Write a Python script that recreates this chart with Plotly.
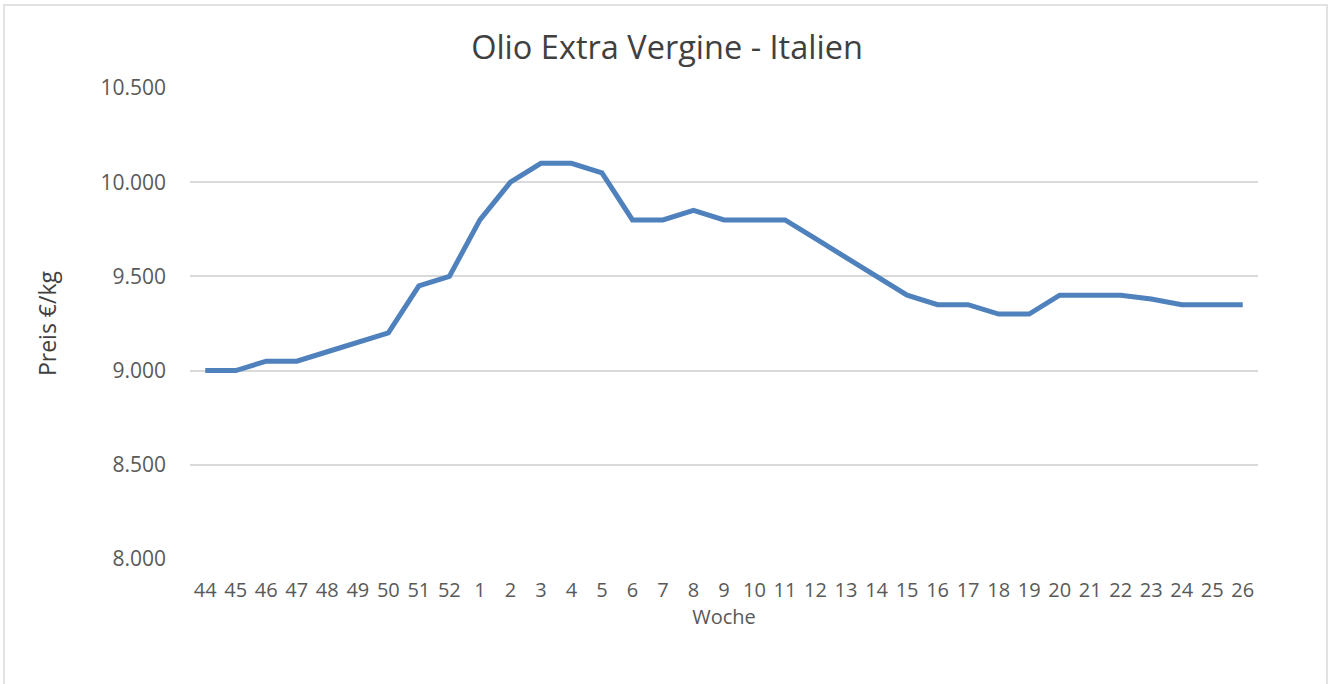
import plotly.graph_objects as go

weeks = ["44", "45", "46", "47", "48", "49", "50", "51", "52",
         "1", "2", "3", "4", "5", "6", "7", "8", "9", "10", "11", "12", "13",
         "14", "15", "16", "17", "18", "19", "20", "21", "22", "23", "24", "25", "26"]
prices = [9000, 9000, 9050, 9050, 9100, 9150, 9200, 9450, 9500,
          9800, 10000, 10100, 10100, 10050, 9800, 9800, 9850, 9800, 9800, 9800,
          9700, 9600, 9500, 9400, 9350, 9350, 9300, 9300, 9400, 9400, 9400,
          9380, 9350, 9350, 9350]
y_ticks = [8000, 8500, 9000, 9500, 10000, 10500]

x_idx = list(range(len(weeks)))

font_family = "Open Sans, Liberation Sans, sans-serif"
W, H = 1334, 684
ML, MR, MT, MB = 190, 76, 88, 125
PW, PH = W - ML - MR, H - MT - MB

fig = go.Figure()
fig.add_trace(go.Scatter(
    x=x_idx, y=prices, mode="lines",
    line=dict(color="#4f81bd", width=5),
    hoverinfo="x+y", showlegend=False,
))

fig.update_layout(
    width=W, height=H,
    margin=dict(l=ML, r=MR, t=MT, b=MB),
    paper_bgcolor="white", plot_bgcolor="white",
    separators=",.",
    font=dict(family=font_family, color="#595959", size=20),
    title=dict(text="Olio Extra Vergine - Italien", x=0.5, xref="container", xanchor="center",
               y=1 - 48 / H, yref="container", yanchor="middle",
               font=dict(size=32.5, color="#404040", family=font_family)),
    xaxis=dict(
        tickmode="array", tickvals=x_idx, ticktext=weeks,
        range=[-0.5, len(weeks) - 0.5],
        showgrid=False, zeroline=False, showline=False,
        ticks="", ticklabelstandoff=17, tickangle=0,
        tickfont=dict(size=20, color="#595959"),
        title=dict(text="Woche", standoff=5, font=dict(size=20, color="#595959")),
    ),
    yaxis=dict(
        range=[8000, 10500], tickvals=y_ticks, tickformat=",d",
        showgrid=True, gridcolor="#d9d9d9", gridwidth=1.5,
        zeroline=False, showline=False, ticks="", ticklabelstandoff=23,
        tickfont=dict(size=21, color="#595959"),
        title=dict(text="Preis €/kg", standoff=37, font=dict(size=23, color="#404040")),
    ),
)

# light chart-area border
fig.add_shape(type="rect", xref="paper", yref="paper",
              x0=(4 - ML) / PW, x1=(1327 - ML) / PW,
              y0=(MT + PH - 700) / PH, y1=1 + (MT - 5) / PH,
              line=dict(color="#d9d9d9", width=1.5), fillcolor="rgba(0,0,0,0)", layer="below")

fig.write_html("out.html", config={"displayModeBar": False},
               post_script="document.body.style.margin='0';")
